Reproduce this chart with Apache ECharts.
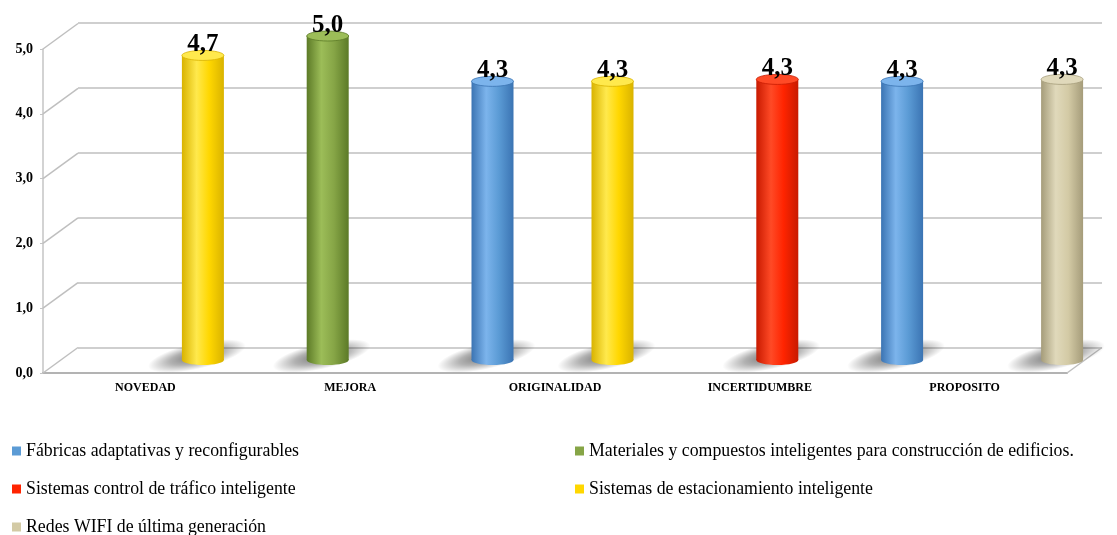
<html style="height: 100%">

<head>
    <meta charset="utf-8">
</head>

<body style="height: 100%; margin: 0; background: #fff">
    <div id="container" style="height: 100%"></div>

    <script type="text/javascript" src="https://cdn.jsdelivr.net/npm/echarts@6/dist/echarts.min.js"></script>

    <script type="text/javascript">
        var categories = ['NOVEDAD', 'MEJORA', 'ORIGINALIDAD', 'INCERTIDUMBRE', 'PROPOSITO'];
        var yTicks = [0, 1, 2, 3, 4, 5];

        var fabricas = [null, null, 4.3, null, 4.3];
        var materiales = [null, 5.0, null, null, null];
        var trafico = [null, null, null, 4.33, null];
        var estacionamiento = [4.7, null, 4.3, null, null];
        var wifi = [null, null, null, null, 4.33];

        var names = [
            'Fábricas adaptativas y reconfigurables',
            'Materiales y compuestos inteligentes para construcción de edificios.',
            'Sistemas control de tráfico inteligente',
            'Sistemas de estacionamiento inteligente',
            'Redes WIFI de última generación'
        ];
        var values = [fabricas, materiales, trafico, estacionamiento, wifi];
        // base / dark / light
        var colors = [
            ['#5b9bd5', '#3b74b3', '#7cb4ec'],
            ['#86a546', '#5c7a27', '#9cbd58'],
            ['#ff2400', '#c81a00', '#ff4a26'],
            ['#ffd700', '#d9b300', '#ffe94d'],
            ['#d3caa5', '#a59c7a', '#e0d9bb']
        ];

        var FONT = '"Liberation Serif", "Times New Roman", serif';
        var BAR_W = 42, SLOT = 40, RY = 5;
        var DX = 35, DY = 25.5;

        var chartDom = document.getElementById('container');
        var myChart = echarts.init(chartDom);

        function cylinder(k) {
            var c = colors[k];
            return function (params, api) {
                var cat = api.value(0), v = api.value(1);
                var top = api.coord([cat, v]);
                var bot = api.coord([cat, 0]);
                var cx = top[0] + (k - 2) * SLOT;
                var body = new echarts.graphic.LinearGradient(0, 0, 1, 0, [
                    { offset: 0, color: c[1] },
                    { offset: 0.35, color: c[2] },
                    { offset: 0.65, color: c[0] },
                    { offset: 1, color: c[1] }
                ]);
                return {
                    type: 'group',
                    children: [{
                        type: 'circle',
                        shape: { cx: cx - 6, cy: bot[1] - 4, r: 10 },
                        scaleX: 5, scaleY: 1.3, rotation: 0.22,
                        originX: cx - 6, originY: bot[1] - 4,
                        style: {
                            fill: new echarts.graphic.RadialGradient(0.5, 0.5, 0.5, [
                                { offset: 0, color: 'rgba(0,0,0,0.55)' },
                                { offset: 0.55, color: 'rgba(0,0,0,0.3)' },
                                { offset: 1, color: 'rgba(0,0,0,0)' }
                            ])
                        }
                    }, {
                        type: 'ellipse',
                        shape: { cx: cx, cy: bot[1], rx: BAR_W / 2, ry: RY },
                        style: { fill: body }
                    }, {
                        type: 'rect',
                        shape: { x: cx - BAR_W / 2, y: top[1], width: BAR_W, height: bot[1] - top[1] },
                        style: { fill: body }
                    }, {
                        type: 'ellipse',
                        shape: { cx: cx, cy: top[1], rx: BAR_W / 2, ry: RY },
                        style: { fill: c[2], stroke: c[1], lineWidth: 0.8 }
                    }, {
                        type: 'text',
                        x: cx, y: top[1] + 2,
                        style: {
                            text: v.toFixed(1).replace('.', ','),
                            font: 'bold 25px ' + FONT,
                            fill: '#000',
                            align: 'center',
                            verticalAlign: 'bottom'
                        }
                    }]
                };
            };
        }

        var series = [];
        // frame: diagonals linking the front axis to the back wall
        series.push({
            name: 'frame',
            type: 'custom',
            xAxisIndex: 1,
            yAxisIndex: 1,
            silent: true,
            z: 1,
            data: yTicks.map(function (t) { return [0, t]; }),
            renderItem: function (params, api) {
                var cs = params.coordSys;
                var y = api.coord([0, api.value(1)])[1];
                var ls = { stroke: '#bfbfbf', lineWidth: 1.5 };
                var kids = [{
                    type: 'line',
                    shape: { x1: cs.x, y1: y, x2: cs.x + DX, y2: y - DY },
                    style: ls
                }];
                if (api.value(1) === 0) {
                    kids.push({
                        type: 'line',
                        shape: { x1: cs.x + cs.width, y1: y, x2: cs.x + cs.width + DX, y2: y - DY },
                        style: ls
                    });
                }
                return { type: 'group', children: kids };
            }
        });

        for (var k = 0; k < 5; k++) {
            var d = [];
            for (var i = 0; i < categories.length; i++) {
                if (values[k][i] != null) d.push([i, values[k][i]]);
            }
            series.push({
                name: names[k],
                type: 'custom',
                xAxisIndex: 2,
                yAxisIndex: 2,
                z: 5,
                itemStyle: { color: colors[k][0] },
                encode: { x: 0, y: 1 },
                data: d,
                renderItem: cylinder(k)
            });
        }

        var legendText = { fontFamily: FONT, fontSize: 17.8, color: '#000' };

        var option = {
            backgroundColor: '#fff',
            animation: false,
            grid: [
                { left: 78, top: 23, width: 1024, height: 324.5, containLabel: false, outerBoundsMode: 'none' },
                { left: 43, top: 49, width: 1024, height: 324, containLabel: false, outerBoundsMode: 'none' },
                { left: 60.5, top: 36, width: 1024, height: 324, containLabel: false, outerBoundsMode: 'none' }
            ],
            xAxis: [
                { gridIndex: 0, type: 'category', data: categories, show: false },
                {
                    gridIndex: 1, type: 'category', data: categories,
                    axisLine: { lineStyle: { color: '#b3b3b3', width: 2 } },
                    axisTick: { length: 4, lineStyle: { color: '#bfbfbf' } },
                    axisLabel: { fontFamily: FONT, fontWeight: 'bold', fontSize: 12, color: '#000', margin: 9 }
                },
                { gridIndex: 2, type: 'category', data: categories, show: false }
            ],
            yAxis: [
                {
                    gridIndex: 0, type: 'value', min: 0, max: 5, interval: 1,
                    axisLine: { show: false }, axisTick: { show: false }, axisLabel: { show: false },
                    splitLine: { lineStyle: { color: '#bfbfbf', width: 1.5 } }
                },
                {
                    gridIndex: 1, type: 'value', min: 0, max: 5, interval: 1,
                    axisLine: { show: true, lineStyle: { color: '#c4c4c4', width: 1.5 } },
                    axisTick: { show: true, length: 3, lineStyle: { color: '#c4c4c4' } },
                    splitLine: { show: false },
                    axisLabel: {
                        fontFamily: FONT, fontWeight: 'bold', fontSize: 14, color: '#000', margin: 10,
                        formatter: function (v) { return v.toFixed(1).replace('.', ','); }
                    }
                },
                { gridIndex: 2, type: 'value', min: 0, max: 5, interval: 1, show: false }
            ],
            legend: [{
                left: 12, top: 442, height: 120, padding: 0, orient: 'vertical', icon: 'rect',
                itemWidth: 9, itemHeight: 9, itemGap: 20,
                data: [names[0], names[2], names[4]],
                textStyle: legendText
            }, {
                left: 575, top: 442, height: 120, padding: 0, orient: 'vertical', icon: 'rect',
                itemWidth: 9, itemHeight: 9, itemGap: 20,
                data: [names[1], names[3]],
                textStyle: legendText
            }],
            series: series
        };

        option && myChart.setOption(option);
    </script>
</body>

</html>
